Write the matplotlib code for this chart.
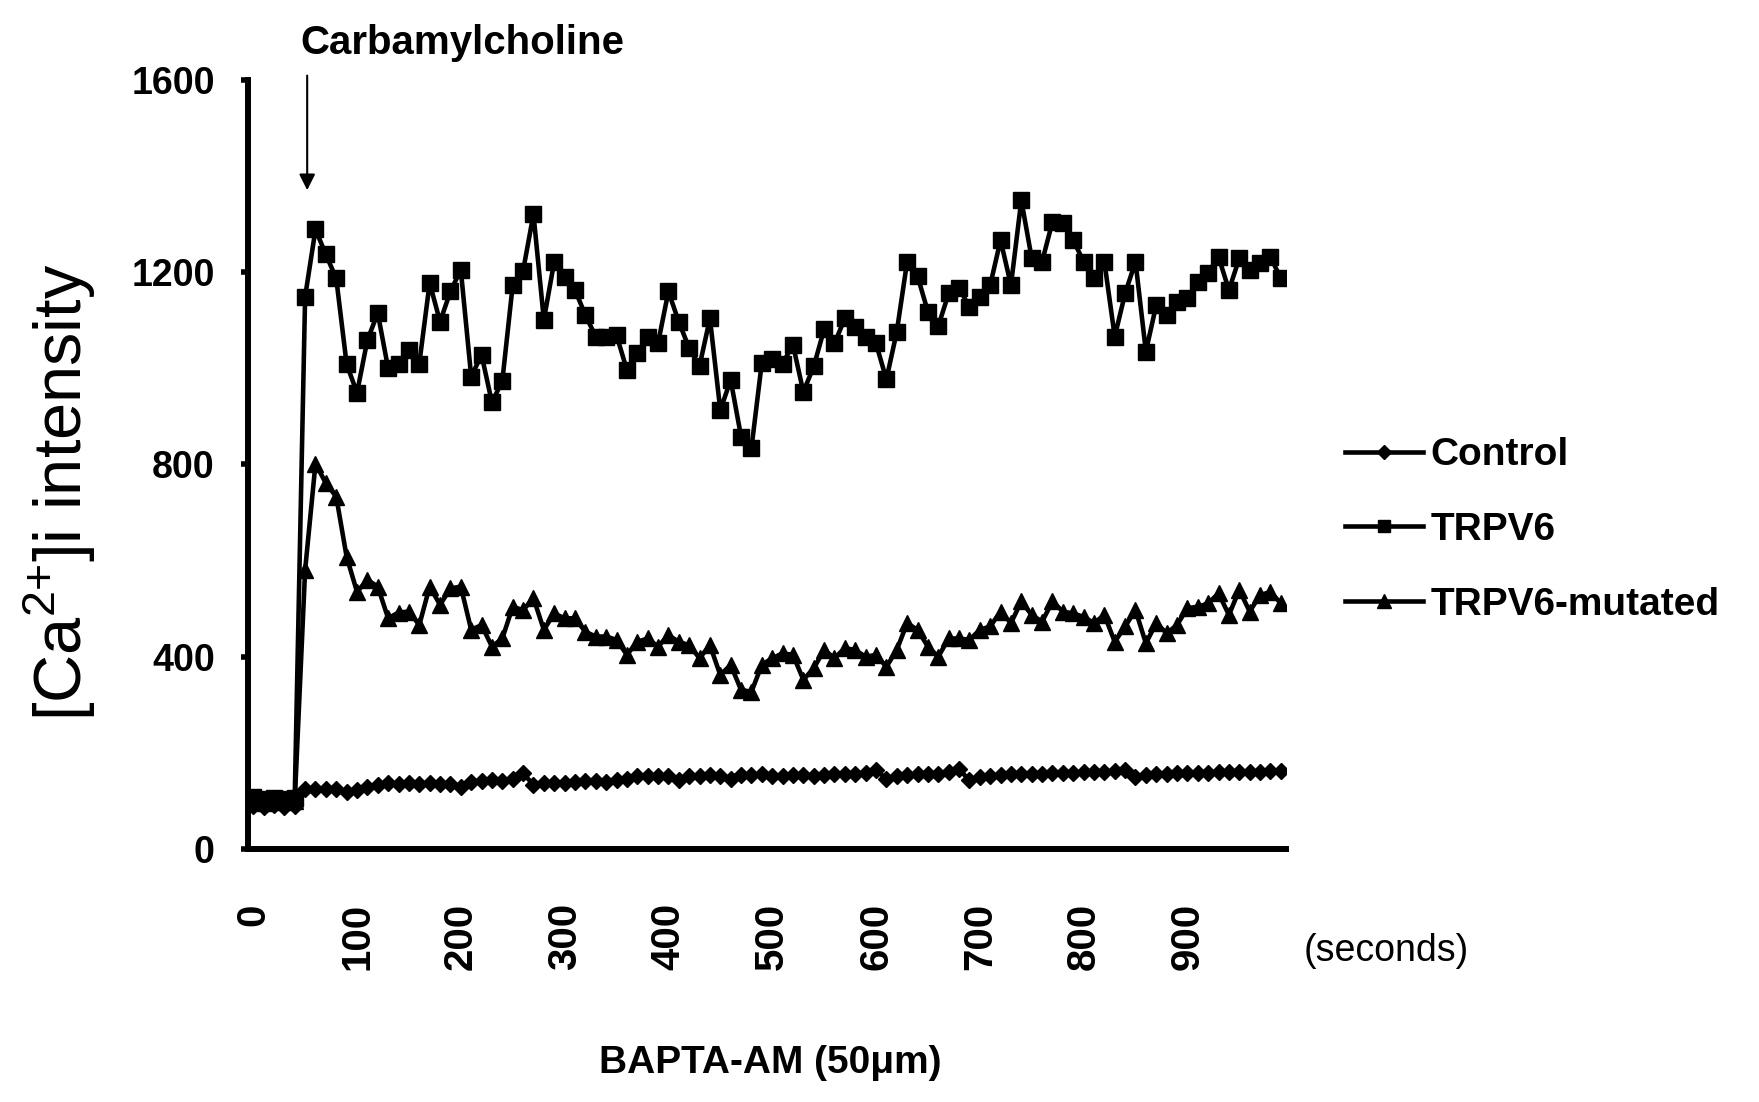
import matplotlib
matplotlib.use("Agg")
import matplotlib.pyplot as plt

plt.rcParams['font.family'] = ['Liberation Sans', 'DejaVu Sans']
plt.rcParams['mathtext.fontset'] = 'custom'
plt.rcParams['mathtext.rm'] = 'Liberation Sans'

# time points (s), one reading every 10 s
seconds = list(range(0, 1000, 10))

control = [90, 88, 92, 88, 90,
           124, 125, 124, 125, 118, 123, 128, 134, 137, 136,
           137, 136, 137, 136, 135, 128, 140, 142, 143, 142,
           145, 158, 133, 137, 138, 137, 139, 141, 142, 140,
           143, 146, 152, 152, 151, 152, 144, 152, 152, 153,
           152, 145, 153, 153, 157, 152, 152, 153, 153, 152,
           153, 155, 156, 157, 158, 165, 145, 152, 154, 155,
           156, 157, 160, 166, 143, 150, 152, 154, 155, 156,
           157, 157, 158, 158, 159, 160, 160, 161, 162, 164,
           150, 154, 156, 157, 158, 158, 159, 159, 160, 160,
           160, 161, 161, 162, 163]

trpv6 = [108, 104, 106, 103, 107,
         1149, 1289, 1237, 1187, 1009, 949, 1059, 1115, 1000, 1010,
         1038, 1010, 1178, 1097, 1160, 1205, 983, 1028, 929, 974,
         1173, 1203, 1321, 1101, 1222, 1191, 1163, 1111, 1066, 1066,
         1069, 997, 1031, 1066, 1052, 1160, 1097, 1042, 1005, 1104,
         913, 976, 858, 834, 1012, 1019, 1010, 1049, 951, 1004,
         1081, 1052, 1104, 1087, 1066, 1052, 977, 1076, 1222, 1192,
         1118, 1088, 1156, 1167, 1128, 1149, 1173, 1267, 1173, 1350,
         1229, 1222, 1305, 1302, 1267, 1222, 1187, 1222, 1066, 1156,
         1222, 1035, 1132, 1111, 1139, 1146, 1180, 1198, 1232, 1163,
         1229, 1205, 1219, 1232, 1187]

mutated = [98, 96, 100, 97, 99,
           580, 802, 761, 733, 608, 535, 560, 546, 480, 492,
           494, 466, 546, 508, 542, 546, 456, 466, 421, 438,
           504, 497, 522, 456, 490, 480, 480, 452, 442, 442,
           435, 404, 431, 438, 421, 445, 431, 424, 397, 424,
           362, 383, 331, 327, 383, 397, 407, 404, 352, 376,
           414, 397, 418, 414, 400, 404, 379, 414, 470, 456,
           421, 400, 438, 438, 435, 456, 463, 494, 470, 515,
           487, 473, 515, 494, 490, 483, 470, 487, 431, 463,
           497, 428, 470, 449, 466, 501, 504, 511, 532, 487,
           539, 494, 528, 535, 511]

series_names = ["Control", "TRPV6", "TRPV6-mutated"]
y_ticks = [0, 400, 800, 1200, 1600]
x_ticks = [0, 100, 200, 300, 400, 500, 600, 700, 800, 900]

fig = plt.figure(figsize=(17.59, 11.02), dpi=100)
ax = fig.add_axes([0.141, 0.2296, 0.5901, 0.6978])

lw = 3.3
ax.plot(seconds, control, color='black', lw=lw, marker='D', ms=8.5, label=series_names[0])
ax.plot(seconds, trpv6, color='black', lw=lw, marker='s', ms=11, label=series_names[1])
ax.plot(seconds, mutated, color='black', lw=lw, marker='^', ms=12, label=series_names[2])

ax.set_xlim(-5, 995)
ax.set_ylim(0, 1600)
ax.set_yticks(y_ticks)
ax.set_yticklabels([str(v) for v in y_ticks], fontsize=27, fontweight='bold')
ax.set_xticks(x_ticks)
ax.set_xticklabels([str(v) for v in x_ticks], fontsize=29, fontweight='bold',
                   rotation=90, va='top')

for side in ['top', 'right']:
    ax.spines[side].set_visible(False)
for side in ['left', 'bottom']:
    ax.spines[side].set_linewidth(4.3)

ax.tick_params(axis='y', direction='out', length=5, width=4, pad=19)
ax.tick_params(axis='x', length=0, pad=39)

# y label
fig.text(60 / 1759, 1 - 492 / 1102, r"[Ca$^{2{+}}$]i intensity", rotation=90,
         fontsize=48, ha='center', va='center')

# x labels
fig.text(1386 / 1759, 1 - 951 / 1102, "(seconds)", fontsize=27,
         ha='center', va='center')
fig.text(770 / 1759, 1 - 1063 / 1102, "BAPTA-AM (50\u03bcm)", fontsize=28,
         fontweight='bold', ha='center', va='center')

# stimulus marker
fig.text(462 / 1759, 1 - 43 / 1102, "Carbamylcholine", fontsize=29,
         fontweight='bold', ha='center', va='center')
ax.annotate("", xy=(52, 1365), xytext=(52, 1615),
            arrowprops=dict(arrowstyle='-|>', color='black', lw=1.5,
                            mutation_scale=24),
            annotation_clip=False)

ax.legend(loc='center left', bbox_to_anchor=(1345 / 1759, 1 - 530 / 1102),
          bbox_transform=fig.transFigure, frameon=False,
          prop={'size': 28, 'weight': 'bold'}, handlelength=2.0,
          handletextpad=0.2, labelspacing=1.0, borderpad=0,
          borderaxespad=0, numpoints=1, markerscale=0.85)

fig.savefig("out.png", dpi=100)
